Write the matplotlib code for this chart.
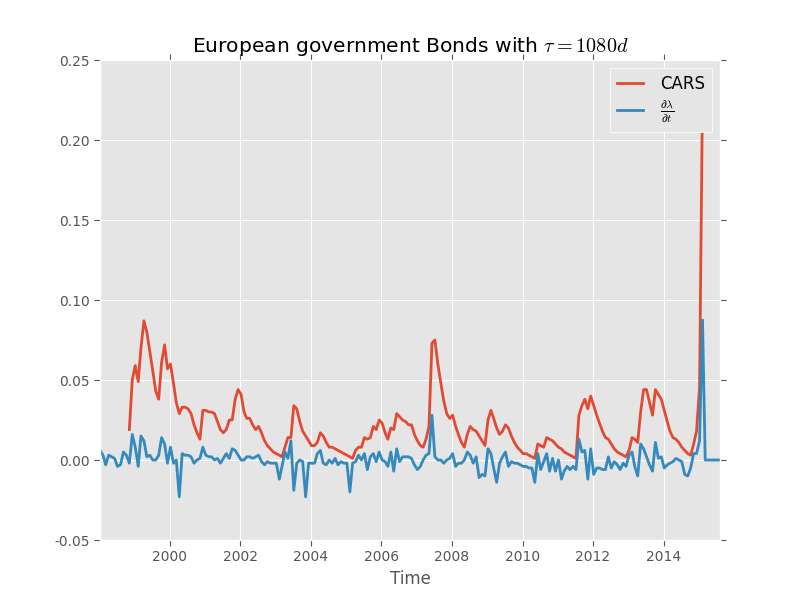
import numpy as np
import pandas as pd
import matplotlib
matplotlib.use("Agg")
import matplotlib.pyplot as plt
import matplotlib.dates as mdates

plt.style.use("ggplot")
plt.rcParams["mathtext.fontset"] = "cm"
plt.rcParams["axes.unicode_minus"] = False

# monthly, Jan 1998 .. Aug 2015 (stamped a week into each month)
dates = pd.date_range("1998-01-01", periods=212, freq="MS") + pd.Timedelta(days=7)

# CARS, starts Nov 1998, ends Jun 2015
cars_start = 10
cars = [
    0.019, 0.050,
    0.059, 0.049, 0.070, 0.087, 0.080, 0.068, 0.056, 0.043, 0.038, 0.061, 0.072, 0.057,
    0.060, 0.048, 0.036, 0.029, 0.033, 0.033, 0.032, 0.029, 0.022, 0.017, 0.013, 0.031,
    0.031, 0.030, 0.030, 0.029, 0.024, 0.019, 0.017, 0.019, 0.025, 0.025, 0.038, 0.044,
    0.041, 0.030, 0.026, 0.026, 0.022, 0.019, 0.021, 0.017, 0.012, 0.009, 0.007, 0.005,
    0.004, 0.003, 0.002, 0.008, 0.014, 0.014, 0.034, 0.032, 0.024, 0.018, 0.015, 0.012,
    0.009, 0.009, 0.011, 0.017, 0.015, 0.011, 0.008, 0.008, 0.007, 0.006, 0.005, 0.004,
    0.003, 0.002, 0.001, 0.006, 0.008, 0.008, 0.014, 0.013, 0.014, 0.021, 0.019, 0.025,
    0.023, 0.017, 0.013, 0.020, 0.019, 0.029, 0.027, 0.025, 0.024, 0.022, 0.022, 0.016,
    0.012, 0.009, 0.008, 0.013, 0.021, 0.073, 0.075, 0.060, 0.048, 0.037, 0.029, 0.026,
    0.028, 0.021, 0.016, 0.011, 0.008, 0.016, 0.021, 0.019, 0.018, 0.015, 0.012, 0.009,
    0.025, 0.031, 0.026, 0.020, 0.016, 0.018, 0.022, 0.020, 0.015, 0.011, 0.008, 0.006,
    0.004, 0.004, 0.003, 0.002, 0.001, 0.010, 0.009, 0.008, 0.014, 0.013, 0.012, 0.010,
    0.008, 0.007, 0.005, 0.004, 0.003, 0.002, 0.001, 0.028, 0.034, 0.038, 0.032, 0.040,
    0.034, 0.028, 0.023, 0.018, 0.014, 0.013, 0.010, 0.007, 0.005, 0.004, 0.003, 0.002,
    0.006, 0.014, 0.013, 0.011, 0.030, 0.044, 0.044, 0.036, 0.028, 0.044, 0.041, 0.038,
    0.031, 0.024, 0.018, 0.014, 0.013, 0.011, 0.008, 0.006, 0.004, 0.003, 0.010, 0.018,
    0.045, 0.230,
]

# d lambda / dt, full range
dlam = [
    0.006, 0.003, -0.003, 0.003, 0.002, 0.001, -0.004, -0.003, 0.005, 0.003, -0.002, 0.016,
    0.008, -0.004, 0.015, 0.012, 0.002, 0.003, 0.000, 0.000, 0.003, 0.014, 0.010, -0.002,
    0.008, -0.002, 0.000, -0.023, 0.004, 0.003, 0.003, 0.002, -0.002, 0.000, 0.001, 0.008,
    0.003, 0.002, 0.002, 0.000, 0.001, -0.002, 0.001, 0.004, 0.001, 0.007, 0.006, 0.003,
    0.000, 0.000, 0.002, 0.002, 0.001, 0.002, 0.003, -0.001, -0.003, -0.001, -0.002, -0.002,
    -0.002, -0.012, -0.004, 0.005, 0.001, 0.012, -0.019, -0.002, 0.000, -0.001, -0.023, -0.002,
    -0.002, -0.002, 0.004, 0.006, -0.002, -0.003, 0.000, -0.002, 0.001, -0.003, -0.001, -0.002,
    -0.002, -0.020, -0.002, -0.001, 0.003, 0.000, 0.004, -0.006, 0.002, 0.004, -0.001, 0.005,
    0.000, -0.001, -0.004, 0.005, -0.007, 0.007, -0.001, 0.002, 0.002, 0.002, 0.001, -0.003,
    -0.006, -0.004, 0.000, 0.003, 0.004, 0.028, 0.002, 0.000, 0.000, -0.002, 0.000, 0.001,
    0.004, -0.004, -0.002, -0.002, 0.000, 0.005, 0.003, -0.002, 0.002, -0.011, -0.009, -0.010,
    0.007, 0.004, -0.005, -0.014, -0.002, 0.002, 0.005, -0.004, -0.001, -0.002, -0.002, -0.003,
    -0.004, -0.004, -0.005, -0.005, -0.014, 0.004, -0.006, -0.001, 0.004, -0.007, 0.001, -0.007,
    0.000, -0.012, -0.007, -0.004, -0.006, -0.004, -0.006, 0.013, 0.005, 0.006, -0.012, 0.007,
    -0.009, -0.005, -0.005, -0.006, -0.006, 0.002, -0.005, -0.001, -0.003, -0.006, -0.002, -0.004,
    0.003, 0.005, -0.004, -0.010, 0.010, 0.007, 0.002, -0.003, -0.007, 0.011, 0.001, 0.002,
    -0.005, -0.003, -0.002, -0.001, 0.001, 0.000, -0.001, -0.009, -0.010, -0.005, 0.004, 0.004,
    0.012, 0.0875, 0.0, 0.0, 0.0, 0.0, 0.0, 0.0,
]

cars_dates = dates[cars_start:cars_start + len(cars)]

fig, ax = plt.subplots(figsize=(8, 6), dpi=100)
fig.subplots_adjust(left=0.125, right=0.9, bottom=0.1, top=0.9)

ax.plot(cars_dates, cars, color="#E24A33", lw=2, label="CARS")
ax.plot(dates, dlam, color="#348ABD", lw=2,
        label=r"$\frac{\partial\lambda}{\partial t}$")

ax.set_xlim(dates[0], dates[-1])
ax.set_ylim(-0.05, 0.25)
ax.set_yticks(np.arange(-0.05, 0.26, 0.05))
ax.yaxis.set_major_formatter(plt.FormatStrFormatter("%.2f"))
ax.xaxis.set_major_locator(mdates.YearLocator(2))
ax.xaxis.set_major_formatter(mdates.DateFormatter("%Y"))

ax.tick_params(axis="both", which="major", labelsize=10, colors="#555555",
               direction="out", top=True, right=True, length=4)
ax.set_xlabel("Time", fontsize=12, color="#555555")
ax.set_title(r"European government Bonds with $\tau = 1080d$",
             fontsize=14.6, color="black")

leg = ax.legend(loc="upper right", fontsize=12, fancybox=False,
                framealpha=1, handlelength=1.6, handletextpad=1.0,
                labelspacing=0.3)
leg.get_frame().set_facecolor("#E5E5E5")
leg.get_frame().set_edgecolor("white")

fig.savefig("out.png", dpi=100)
